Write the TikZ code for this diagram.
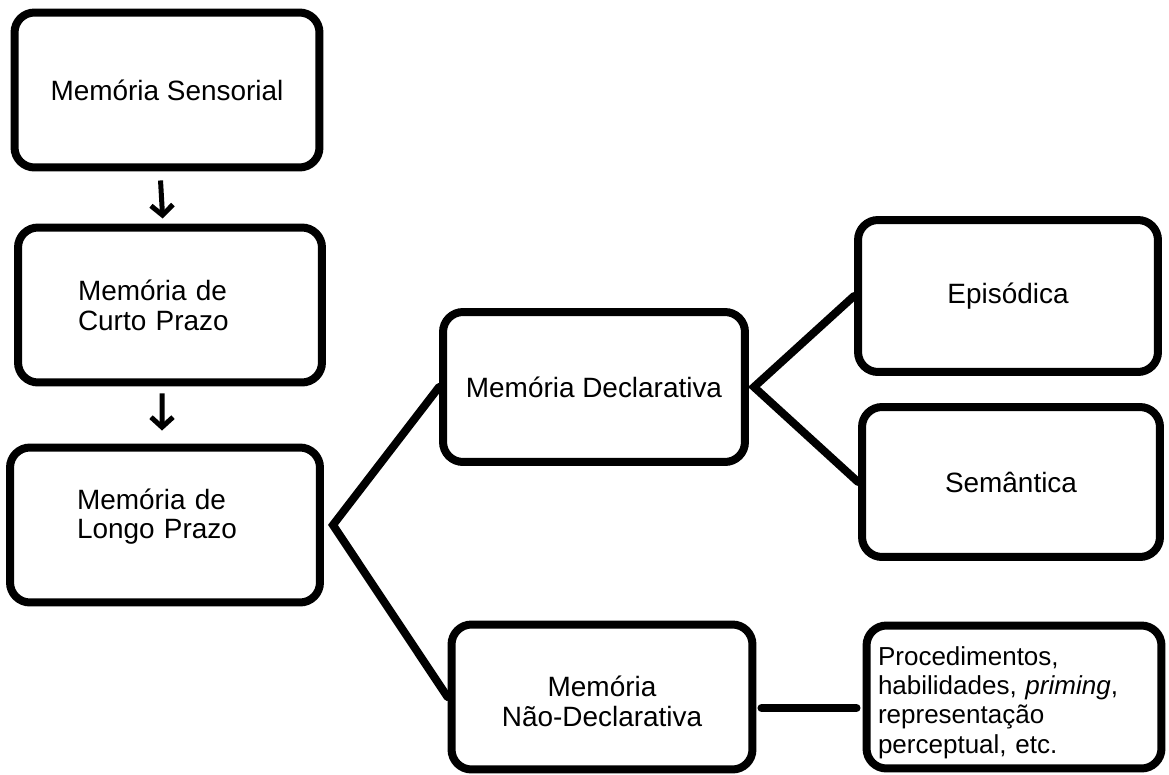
\documentclass[tikz,border=0pt]{standalone}
\usepackage{fontspec}
\setmainfont{Liberation Sans}
\usetikzlibrary{arrows.meta}
\begin{document}
\begin{tikzpicture}[x=0.02cm,y=-0.02cm,
		box/.style={draw,line width=0.16cm,rounded corners=0.4cm,inner sep=0pt,font=\fontsize{15.9}{17}\selectfont},
		link/.style={line width=0.16cm,line cap=round},
		seta/.style={line width=0.1cm,-{Straight Barb[length=0.2cm,width=0.44cm]}}]
		\useasboundingbox (0,0) rectangle (1169,774);
		\node[box,minimum width=6.1cm,minimum height=3.1cm] (sens) at (167,90) {Memória Sensorial};
		\node[box,minimum width=6.08cm,minimum height=3.1cm,text width=3.68cm,align=left] (stm) at (170,305) {Memória de\\Curto Prazo};
		\node[box,minimum width=6.2cm,minimum height=3.1cm,text width=3.52cm,align=left] (ltm) at (165,525) {Memória de\\Longo Prazo\rule[-0.45cm]{0pt}{0pt}};
		\node[box,minimum width=6.04cm,minimum height=3cm] (decl) at (594,387) {Memória Declarativa};
		\node[box,minimum width=6cm,minimum height=3.04cm] (epi) at (1008,296) {Episódica};
		\node[box,minimum width=5.96cm,minimum height=3cm] (sem) at (1011,482) {Semântica};
		\node[box,minimum width=6.02cm,minimum height=2.9cm,align=center] (ndecl) at (602,697) {\rule{0pt}{0.6cm}Memória\\Não-Declarativa};
		\node[box,minimum width=5.9cm,minimum height=2.86cm,text width=5.44cm,align=left,font=\fontsize{14.8}{16.6}\selectfont] (proc) at (1014,697) {\rule{0pt}{0.6cm}Procedimentos,\\habilidades, \textit{priming},\\representação\\perceptual, etc.};
		\coordinate (ltmfork) at ([xshift=0.18cm]ltm.east);
		\coordinate (declfork) at ([xshift=0.1cm]decl.east);
		\draw[seta,shorten <=0.18cm,shorten >=0.1cm] ([xshift=-0.14cm]sens.south) -- ([xshift=-0.14cm]stm.north);
		\draw[seta,shorten <=0.14cm,shorten >=0.26cm] ([xshift=-0.16cm]stm.south) -- ([xshift=-0.06cm]ltm.north);
		\draw[link] (decl.west) -- (ltmfork) -- (ndecl.west);
		\draw[link] (epi.west) -- (declfork) -- (sem.west);
		\draw[link] ([xshift=0.1cm,yshift=-0.22cm]ndecl.east) -- ([xshift=-0.12cm,yshift=-0.22cm]proc.west);
\end{tikzpicture}
\end{document}
